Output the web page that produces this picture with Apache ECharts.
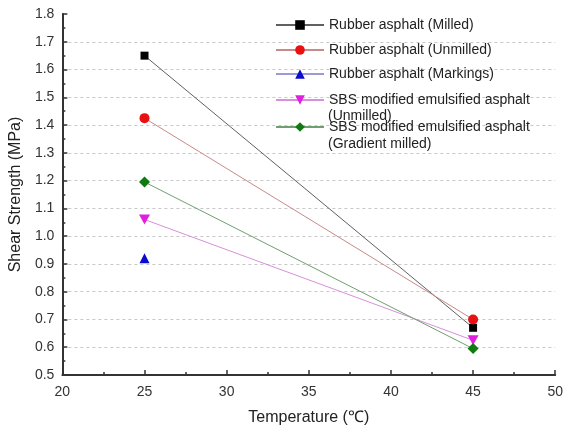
<!DOCTYPE html>
<html>
<head>
<meta charset="utf-8">
<script src="https://cdn.jsdelivr.net/npm/echarts@6/dist/echarts.min.js"></script>
<style>
  html, body { margin: 0; padding: 0; background: #fff; }
  #chart { width: 566px; height: 431px; }
</style>
</head>
<body>
<div id="chart"></div>
<script>
// values
var temps = [25, 45];
var rubberMilled = [1.65, 0.67];
var rubberUnmilled = [1.425, 0.70];
var rubberMarkings = [0.92, null];
var sbsUnmilled = [1.06, 0.625];
var sbsGradient = [1.195, 0.595];

var names = [
    'Rubber asphalt (Milled)',
    'Rubber asphalt (Unmilled)',
    'Rubber asphalt (Markings)',
    'SBS modified emulsified asphalt\n(Unmilled)',
    'SBS modified emulsified asphalt\n(Gradient milled)'
];
var values = [rubberMilled, rubberUnmilled, rubberMarkings, sbsUnmilled, sbsGradient];
var markColors = ['#000000', '#e81010', '#0a0ad0', '#e020e0', '#0f7a0f'];
var lineColors = ['#606060', '#c88a8a', '#9a9ad8', '#d890d8', '#6f9f6f'];
var symbols = ['rect', 'circle', 'triangle', 'path://M0,0 L10,0 L5,9 Z', 'diamond'];
var symbolSizes = [8, 10, 10, [11, 10], 11];
var legendCenters = [24, 49, 73, 99, 126];

var fontFam = 'Liberation Sans, Arial, sans-serif';

function pairs(arr) {
    var out = [];
    for (var i = 0; i < temps.length; i++) {
        if (arr[i] != null) out.push([temps[i], arr[i]]);
    }
    return out;
}

var chart = echarts.init(document.getElementById('chart'));

var series = names.map(function (n, i) {
    return {
        name: n,
        type: 'line',
        data: pairs(values[i]),
        symbol: symbols[i],
        symbolSize: symbolSizes[i],
        itemStyle: {color: markColors[i]},
        lineStyle: {color: lineColors[i], width: 1},
        emphasis: {disabled: true},
        animation: false
    };
});

// one legend per item; the second line of the long names is placed as its own text
var legends = names.map(function (n, i) {
    return {
        data: [n],
        orient: 'vertical',
        left: 267,
        top: legendCenters[i] - 11,
        padding: [5, 5, 5, 8],
        itemWidth: 48,
        itemHeight: 12,
        selectedMode: false,
        formatter: function (name) { return name.split('\n')[0]; },
        textStyle: {fontFamily: fontFam, fontSize: 14, color: '#222'}
    };
});

var secondLines = [];
names.forEach(function (n, i) {
    var parts = n.split('\n');
    if (parts.length > 1) {
        secondLines.push({
            type: 'text',
            left: 328,
            top: legendCenters[i] + (i === 3 ? 16 : 17) - 6,
            style: {text: parts[1], font: '14px ' + fontFam, fill: '#222'}
        });
    }
});

var option = {
    backgroundColor: '#fff',
    textStyle: {fontFamily: fontFam},
    grid: {left: 61, right: 8, top: 14, bottom: 53},
    legend: legends,
    graphic: secondLines,
    xAxis: {
        type: 'value',
        min: 20,
        max: 50,
        interval: 5,
        name: 'Temperature (\u2103)',
        nameLocation: 'middle',
        nameGap: 35,
        nameTextStyle: {fontSize: 16, color: '#222'},
        axisLine: {lineStyle: {color: '#333', width: 2}},
        axisTick: {inside: true, length: 5, lineStyle: {color: '#333', width: 1.5}},
        minorTick: {show: true, splitNumber: 2, length: 3, lineStyle: {color: '#333', width: 1.5}},
        axisLabel: {fontSize: 14, color: '#333', margin: 10},
        splitLine: {show: false}
    },
    yAxis: {
        type: 'value',
        min: 0.5,
        max: 1.8,
        interval: 0.1,
        name: 'Shear Strength (MPa)',
        nameLocation: 'middle',
        nameGap: 37,
        nameTextStyle: {fontSize: 16, color: '#222'},
        axisLine: {show: true, lineStyle: {color: '#333', width: 2}},
        axisTick: {show: true, inside: true, length: 5, lineStyle: {color: '#333', width: 1.5}},
        minorTick: {show: true, splitNumber: 2, length: 3, lineStyle: {color: '#333', width: 1.5}},
        axisLabel: {
            fontSize: 14,
            color: '#333',
            margin: 8,
            formatter: function (v) { return v.toFixed(1); }
        },
        splitLine: {
            show: true,
            showMinLine: false,
            showMaxLine: false,
            lineStyle: {color: '#c8c8c8', type: [3, 3], width: 1}
        }
    },
    series: series
};

chart.setOption(option);
</script>
</body>
</html>
